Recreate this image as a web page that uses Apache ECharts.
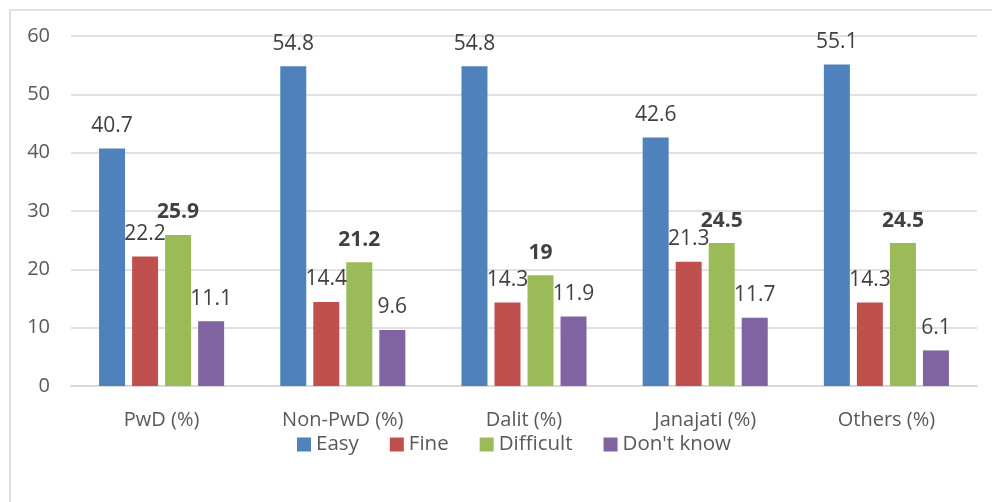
<!DOCTYPE html>
<html>
<head>
<meta charset="utf-8">
<script src="https://cdn.jsdelivr.net/npm/echarts@6/dist/echarts.min.js"></script>
<style>
  html, body { margin: 0; padding: 0; background: #fff; }
  #main { width: 992px; height: 502px; }
</style>
</head>
<body>
<div id="main"></div>
<script>
var categories = ['PwD (%)', 'Non-PwD (%)', 'Dalit (%)', 'Janajati (%)', 'Others (%)'];
var easy = [40.7, 54.8, 54.8, 42.6, 55.1];
var fine = [22.2, 14.4, 14.3, 21.3, 14.3];
var difficult = [25.9, 21.2, 19, 24.5, 24.5];
var dontKnow = [11.1, 9.6, 11.9, 11.7, 6.1];

var font = 'Open Sans';
var myChart = echarts.init(document.getElementById('main'));

function makeSeries(name, data, color, bold) {
  return {
    name: name,
    type: 'bar',
    data: data,
    barWidth: 26,
    barGap: '27%',
    itemStyle: { color: color },
    label: {
      show: true,
      position: 'top',
      distance: 12,
      color: '#404040',
      fontFamily: font,
      fontSize: 21,
      fontWeight: bold ? 'bold' : 'normal'
    }
  };
}

var option = {
  animation: false,
  textStyle: { fontFamily: font },
  graphic: [{
    type: 'rect',
    shape: { x: 10, y: 10, width: 1000, height: 520 },
    style: { fill: 'none', stroke: '#d9d9d9', lineWidth: 1.5 },
    silent: true
  }],
  grid: { left: 71, right: 15, top: 36, bottom: 116 },
  legend: {
    top: 429,
    left: 292,
    itemWidth: 14,
    itemHeight: 14,
    itemGap: 31,
    icon: 'rect',
    textStyle: { color: '#595959', fontSize: 20.5, fontFamily: font },
    data: ['Easy', 'Fine', 'Difficult', "Don't know"]
  },
  xAxis: {
    type: 'category',
    data: categories,
    axisLine: { lineStyle: { color: '#d9d9d9', width: 2 } },
    axisTick: { show: false },
    axisLabel: { color: '#595959', fontSize: 20, margin: 24, fontFamily: font }
  },
  yAxis: {
    type: 'value',
    min: 0,
    max: 60,
    interval: 10,
    axisLine: { show: false },
    axisTick: { show: false },
    splitLine: { lineStyle: { color: '#d9d9d9', width: 1.5 } },
    axisLabel: { color: '#595959', fontSize: 20, margin: 21, fontFamily: font }
  },
  series: [
    makeSeries('Easy', easy, '#4f81bd', false),
    makeSeries('Fine', fine, '#c0504d', false),
    makeSeries('Difficult', difficult, '#9bbb59', true),
    makeSeries("Don't know", dontKnow, '#8064a2', false)
  ]
};

myChart.setOption(option);
</script>
</body>
</html>
